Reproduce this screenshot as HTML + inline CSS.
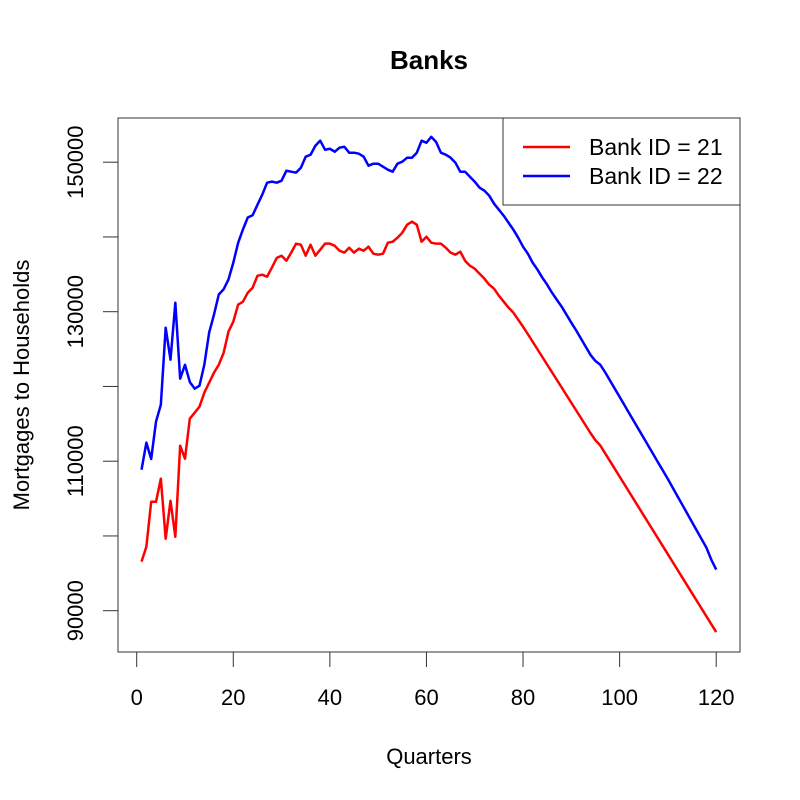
<!DOCTYPE html>
<html><head><meta charset="utf-8"><style>
body{margin:0;background:#fff}
svg{display:block;font-family:"Liberation Sans",Arial,sans-serif}
</style></head><body>
<svg id="chart" width="800" height="800" viewBox="0 0 800 800">
<rect x="0" y="0" width="800" height="800" fill="#fff"/>
<text x="429" y="69" text-anchor="middle" font-size="26" font-weight="bold">Banks</text>
<rect x="118" y="118" width="622" height="534" fill="none" stroke="#333" stroke-width="1"/>
<g id="xaxis"></g>
<g id="yaxis"></g>
<text x="429" y="764" text-anchor="middle" font-size="22">Quarters</text>
<text transform="translate(29,385) rotate(-90)" text-anchor="middle" font-size="22">Mortgages to Households</text>
<g id="series"></g>
<g>
<rect x="503" y="118" width="237" height="87" fill="#fff" stroke="#333" stroke-width="1"/>
<line x1="523" y1="147" x2="570" y2="147" stroke="#ff0000" stroke-width="2.5"/>
<text x="589" y="155" font-size="23">Bank ID = 21</text>
<line x1="523" y1="176" x2="570" y2="176" stroke="#0000ff" stroke-width="2.5"/>
<text x="589" y="184" font-size="23">Bank ID = 22</text>
</g>
</svg>
<script>
const xTicks = [0,20,40,60,80,100,120];
const yTicks = [90000,100000,110000,120000,130000,140000,150000];
const yTickLabels = ["90000","","110000","","130000","","150000"];
const bank21 = [96560,98560,104580,104580,107660,99630,104700,99900,112070,110330,115690,116490,117290,119160,120500,121840,122900,124500,127320,128660,
130940,131340,132540,133200,134800,134950,134680,135900,137200,137490,136820,137900,139100,138960,137490,138960,137490,138300,139100,139100,
138830,138160,137900,138560,137900,138430,138160,138700,137760,137630,137760,139230,139360,139900,140570,141640,142040,141640,139360,140030,
139230,139100,139100,138560,137900,137630,138030,136820,136150,135750,135080,134420,133610,133080,132140,131340,130540,129870,128930,128000,
127000,125980,124960,123940,122920,121900,120880,119860,118840,117820,116800,115780,114760,113740,112800,112100,111060,110020,108980,107940,
106900,105860,104820,103780,102740,101700,100660,99620,98580,97540,96500,95460,94420,93380,92340,91300,90260,89220,88180,87140];
const bank22 = [108860,112480,110300,115300,117560,127860,123580,131200,121040,122900,120600,119700,120100,122900,127200,129600,132300,133000,134300,136550,
139200,141000,142600,142900,144300,145650,147260,147400,147260,147530,148860,148730,148600,149260,150740,151000,152200,152880,151670,151800,
151400,151940,152070,151270,151270,151140,150740,149530,149800,149800,149400,149000,148730,149800,150070,150600,150600,151270,152880,152600,
153400,152700,151270,151000,150600,149930,148730,148730,148060,147390,146590,146190,145520,144450,143650,142840,141900,140970,139900,138700,
137760,136550,135620,134550,133610,132540,131600,130670,129600,128530,127500,126400,125300,124200,123400,122900,121900,120800,119700,118600,
117500,116400,115300,114200,113100,112000,110900,109800,108700,107600,106450,105300,104150,103000,101850,100700,99550,98400,96800,95500];

const NS='http://www.w3.org/2000/svg';
function xs(q){return 136.7 + q*(716.2-136.7)/120;}
function ys(v){return 610.7 - (v-90000)*(149.5/20000);}
function mk(tag,attrs,parent){const e=document.createElementNS(NS,tag);for(const k in attrs)e.setAttribute(k,attrs[k]);parent.appendChild(e);return e;}

const xa=document.getElementById('xaxis');
mk('line',{x1:xs(xTicks[0]),y1:652,x2:xs(xTicks[xTicks.length-1]),y2:652,stroke:'#333'},xa);
xTicks.forEach(t=>{
  const l=mk('line',{x1:xs(t),y1:652,x2:xs(t),y2:667,stroke:'#333'},xa);
  
  
  const tx=mk('text',{x:xs(t),y:705,'text-anchor':'middle','font-size':22},xa);
  tx.textContent=t;
  
  
});
const ya=document.getElementById('yaxis');
mk('line',{x1:118,y1:ys(yTicks[0]),x2:118,y2:ys(yTicks[yTicks.length-1]),stroke:'#333'},ya);
yTicks.forEach((t,i)=>{
  const l=mk('line',{x1:103,y1:ys(t),x2:118,y2:ys(t),stroke:'#333'},ya);
  
  
  if(yTickLabels[i]){
    const tx=mk('text',{transform:`translate(83,${ys(t)}) rotate(-90)`,'text-anchor':'middle','font-size':22},ya);
    tx.textContent=yTickLabels[i];
    
    
  }
});
const sg=document.getElementById('series');
function drawLine(vals,color,name){
  const pts=vals.map((v,i)=>xs(i+1).toFixed(2)+','+ys(v).toFixed(2)).join(' ');
  const p=mk('polyline',{points:pts,fill:'none',stroke:color,'stroke-width':2.5,'stroke-linejoin':'round'},sg);
  
  
}
drawLine(bank21,'#ff0000','line-bank-21');
drawLine(bank22,'#0000ff','line-bank-22');
</script>
</body></html>
